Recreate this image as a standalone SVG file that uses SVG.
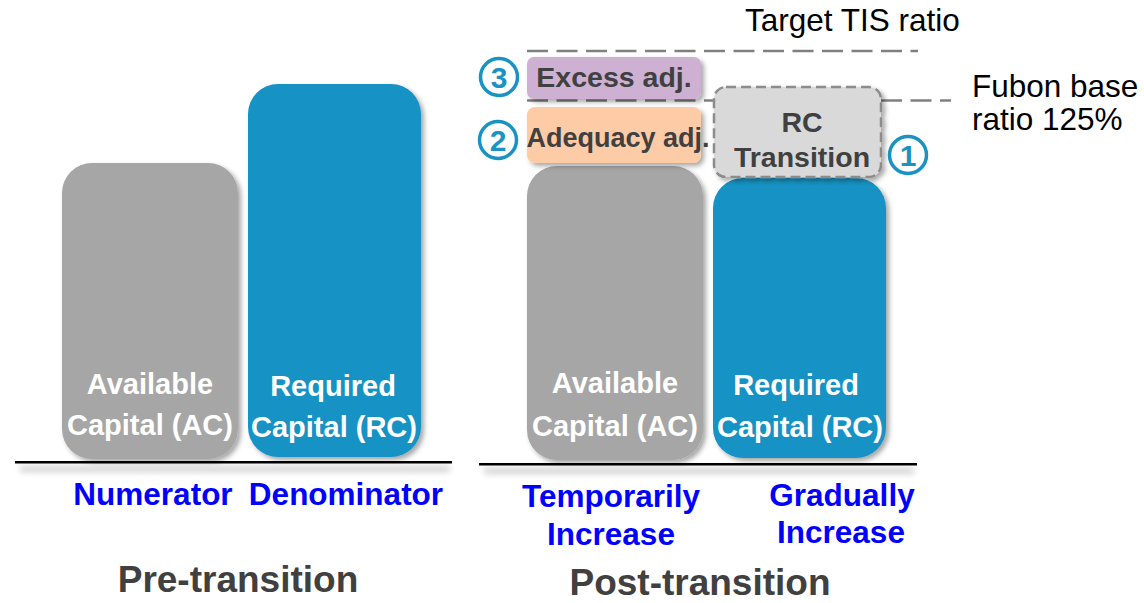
<svg xmlns="http://www.w3.org/2000/svg" width="1144" height="603" viewBox="0 0 1144 603">
<defs>
<filter id="sh" x="-10%" y="-10%" width="125%" height="125%">
<feDropShadow dx="3" dy="3" stdDeviation="2.5" flood-color="#000" flood-opacity="0.35"/>
</filter>
<filter id="blur" x="-5%" y="-100%" width="110%" height="300%">
<feGaussianBlur stdDeviation="3"/>
</filter>
</defs>
<style>
.ac{fill:#A6A6A6}
.rc{fill:#1593C4}
.wt{font-family:"Liberation Sans",Arial,sans-serif;font-weight:bold;font-size:29px;fill:#FFFFFF;text-anchor:middle}
.dk{font-family:"Liberation Sans",Arial,sans-serif;font-weight:bold;font-size:28.5px;fill:#404040;text-anchor:middle}
.bl{font-family:"Liberation Sans",Arial,sans-serif;font-weight:bold;font-size:31.5px;fill:#0000FF;text-anchor:middle}
.ti{font-family:"Liberation Sans",Arial,sans-serif;font-weight:bold;font-size:37px;fill:#404040;text-anchor:middle}
.rg{font-family:"Liberation Sans",Arial,sans-serif;font-size:31.5px;fill:#000000}
.cir{fill:#FFFFFF;stroke:#1A93C3;stroke-width:3.5}
.num{font-family:"Liberation Sans",Arial,sans-serif;font-weight:bold;font-size:30px;fill:#1A93C3;text-anchor:middle}
.dash{stroke:#808080;stroke-width:2.5;stroke-dasharray:21 8.5;fill:none}
.bshadow{fill:#000;opacity:0.18}
</style>

<g id="connectors">
<line class="dash" x1="527" y1="51" x2="918" y2="51"/>
<line class="dash" x1="527" y1="100.5" x2="951" y2="100.5"/>
<rect class="bshadow" x="20" y="466" width="430" height="6" filter="url(#blur)"/>
<rect x="15" y="461" width="437" height="2.5" fill="#000"/>
<rect class="bshadow" x="484" y="468" width="430" height="6" filter="url(#blur)"/>
<rect x="479" y="463" width="438" height="2.5" fill="#000"/>
</g>

<g id="pre-ac">
<rect class="ac" x="62" y="163" width="176" height="296" rx="30" filter="url(#sh)"/>
<text class="wt" x="150" y="394">Available</text>
<text class="wt" x="150" y="435">Capital (AC)</text>
</g>

<g id="pre-rc">
<rect class="rc" x="248" y="84" width="173" height="373" rx="30" filter="url(#sh)"/>
<text class="wt" x="333" y="396">Required</text>
<text class="wt" x="334" y="437">Capital (RC)</text>
</g>

<g id="post-ac">
<rect class="ac" x="527" y="166" width="176" height="294" rx="30" filter="url(#sh)"/>
<text class="wt" x="615" y="393">Available</text>
<text class="wt" x="615" y="436">Capital (AC)</text>
</g>

<g id="post-rc">
<rect class="rc" x="713" y="178" width="173" height="280" rx="30" filter="url(#sh)"/>
<text class="wt" x="796" y="395">Required</text>
<text class="wt" x="800" y="437">Capital (RC)</text>
</g>

<g id="rc-transition">
<rect x="714" y="87" width="167" height="90" rx="12" fill="#D9D9D9" stroke="#8C8C8C" stroke-width="2.5" stroke-dasharray="10 5" filter="url(#sh)"/>
<text class="dk" x="802" y="132">RC</text>
<text class="dk" x="802" y="167">Transition</text>
</g>

<g id="excess">
<rect x="527" y="57" width="174" height="42" rx="7" fill="#CDB0D2" filter="url(#sh)"/>
<text class="dk" x="614" y="87">Excess adj.</text>
</g>

<g id="adequacy">
<rect x="527" y="107" width="174" height="56" rx="8" fill="#FDCBA6" filter="url(#sh)"/>
<text class="dk" x="618" y="147" style="font-size:27px">Adequacy adj.</text>
</g>

<g id="num3">
<circle class="cir" cx="499" cy="77" r="18.5"/>
<text class="num" x="499" y="88">3</text>
</g>
<g id="num2">
<circle class="cir" cx="498" cy="140" r="18.5"/>
<text class="num" x="498" y="151">2</text>
</g>
<g id="num1">
<circle class="cir" cx="908" cy="155" r="18.5"/>
<text class="num" x="908" y="166">1</text>
</g>

<g id="target-label">
<text class="rg" x="745" y="31">Target TIS ratio</text>
</g>
<g id="fubon-label">
<text class="rg" x="972" y="97">Fubon base</text>
<text class="rg" x="972" y="130">ratio 125%</text>
</g>

<g id="pre-labels">
<text class="bl" x="153" y="505">Numerator</text>
<text class="bl" x="346" y="505">Denominator</text>
<text class="ti" x="238" y="592">Pre-transition</text>
</g>

<g id="post-labels">
<text class="bl" x="611" y="507">Temporarily</text>
<text class="bl" x="611" y="545">Increase</text>
<text class="bl" x="842" y="506">Gradually</text>
<text class="bl" x="841" y="543">Increase</text>
<text class="ti" x="700" y="595">Post-transition</text>
</g>
</svg>
